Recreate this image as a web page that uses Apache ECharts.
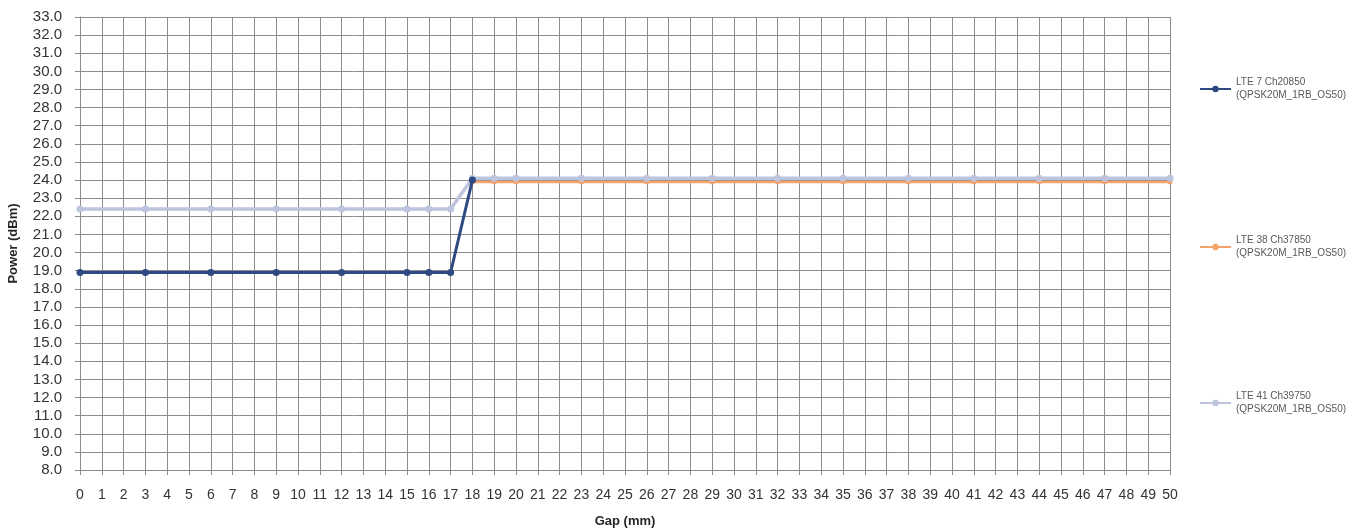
<!DOCTYPE html>
<html>
<head>
<meta charset="utf-8">
<script src="https://cdn.jsdelivr.net/npm/echarts@6/dist/echarts.min.js"></script>
<style>
html,body{margin:0;padding:0;background:#fff;}
#chart{width:1362px;height:531px;}
</style>
</head>
<body>
<div id="chart"></div>
<script>
// Data
const gapPoints = [0,3,6,9,12,15,16,17,18,19,20,23,26,29,32,35,38,41,44,47,50];
const seriesNames = [
  'LTE 7 Ch20850 (QPSK20M_1RB_OS50)',
  'LTE 38 Ch37850 (QPSK20M_1RB_OS50)',
  'LTE 41 Ch39750 (QPSK20M_1RB_OS50)'
];
const lte7 = [18.9,18.9,18.9,18.9,18.9,18.9,18.9,18.9,24.0,null,null,null,null,null,null,null,null,null,null,null,null];
const lte38 = [null,null,null,null,null,null,null,null,23.9,23.9,23.9,23.9,23.9,23.9,23.9,23.9,23.9,23.9,23.9,23.9,23.9];
const lte41 = [22.4,22.4,22.4,22.4,22.4,22.4,22.4,22.4,24.1,24.1,24.1,24.1,24.1,24.1,24.1,24.1,24.1,24.1,24.1,24.1,24.1];

const pairs = arr => gapPoints.map((x,i)=>[x, arr[i]]).filter(p=>p[1]!==null);

const chart = echarts.init(document.getElementById('chart'));
const FONT = 'Liberation Sans';
const gridColor = '#8c8c8c';

function legendAt(top, name){
  return {
    data:[name], left:1194, top:top, orient:'vertical',
    itemWidth:31, itemHeight:8,
    textStyle:{fontFamily:FONT, fontSize:10, color:'#595959', lineHeight:13},
    formatter: n => n.replace(' (', '\n(')
  };
}

chart.setOption({
  animation:false,
  backgroundColor:'#fff',
  textStyle:{fontFamily:FONT},
  grid:{left:80, right:192, top:17, bottom:61, containLabel:false, outerBoundsMode:'none'},
  legend:[legendAt(71, seriesNames[0]), legendAt(229, seriesNames[1]), legendAt(385, seriesNames[2])],
  xAxis:{
    type:'value', min:0, max:50, interval:1,
    name:'Gap (mm)', nameLocation:'middle', nameGap:45,
    nameTextStyle:{fontFamily:FONT, fontSize:13, fontWeight:'bold', color:'#262626'},
    axisLine:{show:true, lineStyle:{color:gridColor, width:1}},
    axisTick:{show:true, length:5, lineStyle:{color:gridColor}},
    axisLabel:{fontFamily:FONT, fontSize:14, color:'#333', margin:18},
    splitLine:{show:true, lineStyle:{color:gridColor, width:1}}
  },
  yAxis:{
    type:'value', min:8, max:33, interval:1,
    name:'Power (dBm)', nameLocation:'middle', nameGap:60, nameRotate:90,
    nameTextStyle:{fontFamily:FONT, fontSize:13, fontWeight:'bold', color:'#262626'},
    axisLine:{show:true, lineStyle:{color:gridColor, width:1}},
    axisTick:{show:true, length:5, lineStyle:{color:gridColor}},
    axisLabel:{fontFamily:FONT, fontSize:15, color:'#333', margin:18, formatter:v=>v.toFixed(1)},
    splitLine:{show:true, lineStyle:{color:gridColor, width:1}}
  },
  series:[
    {name:seriesNames[0], type:'line', data:pairs(lte7), z:3,
     symbol:'circle', symbolSize:7, showSymbol:true,
     lineStyle:{color:'#2f4a82', width:3}, itemStyle:{color:'#2f4a82'}},
    {name:seriesNames[1], type:'line', data:pairs(lte38), z:2,
     symbol:'circle', symbolSize:5,
     lineStyle:{color:'#f4a46a', width:2.5}, itemStyle:{color:'#f4a46a'}},
    {name:seriesNames[2], type:'line', data:pairs(lte41), z:2.5,
     symbol:'circle', symbolSize:7,
     lineStyle:{color:'#bcc4de', width:3.5}, itemStyle:{color:'#bcc4de'}}
  ]
});
</script>
</body>
</html>
